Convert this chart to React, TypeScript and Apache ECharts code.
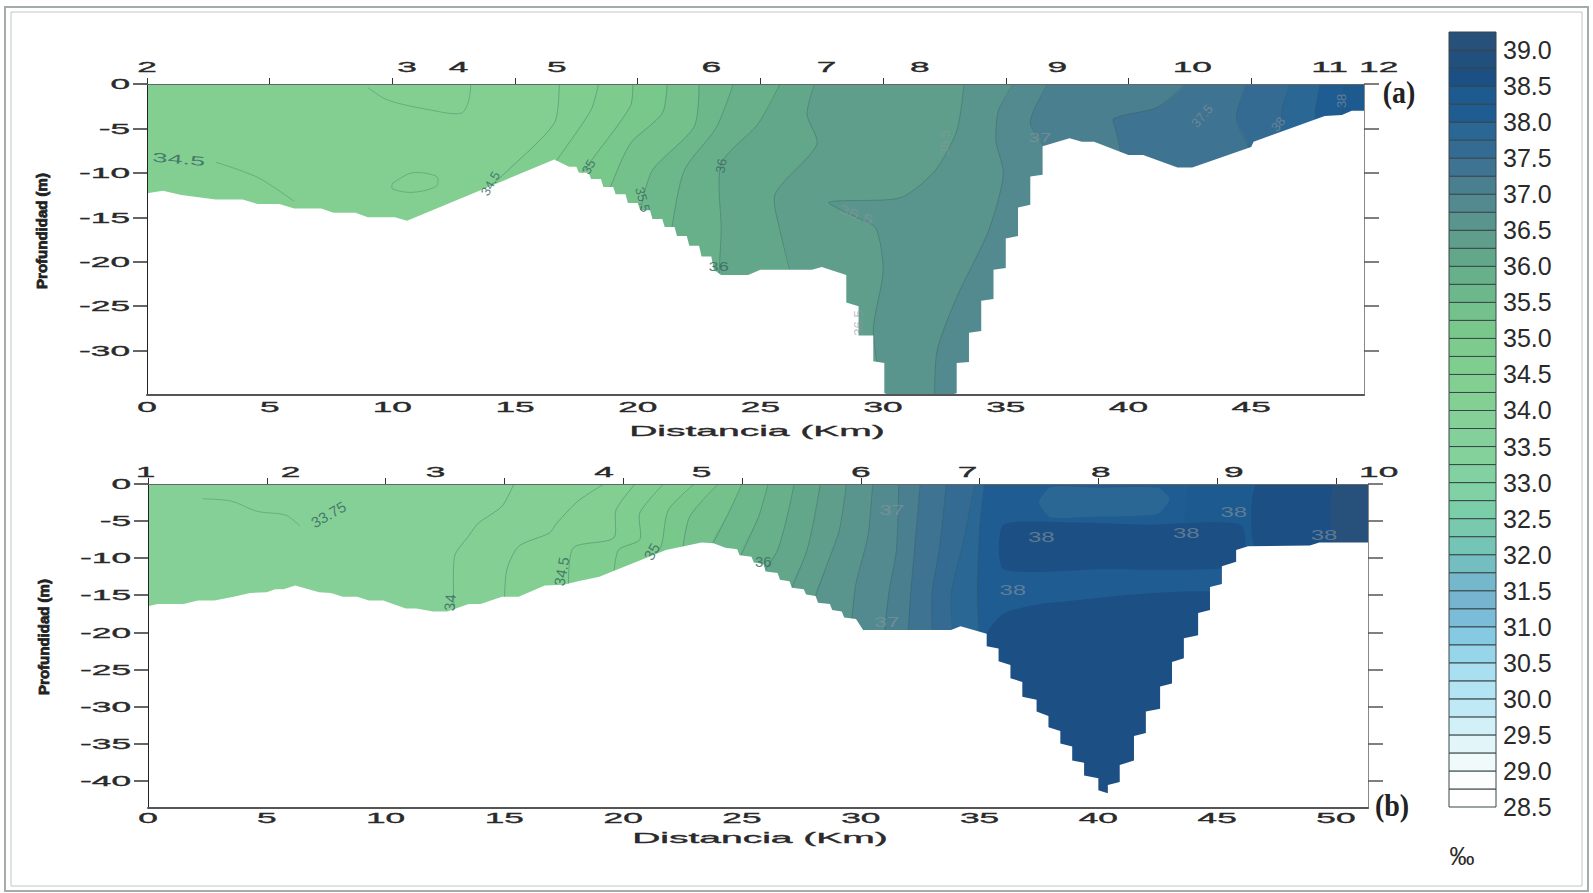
import React, { useEffect, useRef } from "react";
import * as echarts from "echarts";

// ---------- colour bar ----------
const barTicks = [39, 38.5, 38, 37.5, 37, 36.5, 36, 35.5, 35, 34.5, 34, 33.5, 33, 32.5, 32, 31.5, 31, 30.5, 30, 29.5, 29, 28.5];
const bandStarts = [28.5, 28.75, 29, 29.25, 29.5, 29.75, 30, 30.25, 30.5, 30.75, 31, 31.25, 31.5, 31.75, 32, 32.25, 32.5, 32.75, 33, 33.25, 33.5, 33.75, 34, 34.25, 34.5, 34.75, 35, 35.25, 35.5, 35.75, 36, 36.25, 36.5, 36.75, 37, 37.25, 37.5, 37.75, 38, 38.25, 38.5, 38.75, 39];
const bandColors = ["#ffffff", "#fcfdfd", "#f1fafa", "#e2f6f9", "#d2f0f7", "#c0e9f5", "#b3e4f3", "#a9dff0", "#97d6ea", "#85c9e2", "#7bbcd8", "#76b4d0", "#75b8cb", "#74bec1", "#74c5b6", "#78c9ae", "#7bcfa8", "#80d1a4", "#82d1a0", "#84d19b", "#83d09a", "#85d097", "#84d094", "#82cf91", "#80ce8f", "#7dcc8d", "#78c88b", "#75c18c", "#6db88a", "#68b08a", "#63a78a", "#5e9e8b", "#5a958d", "#528a8f", "#4a7f90", "#3f7392", "#346b93", "#2a6795", "#1f5c92", "#1c5a8f", "#1c4f84", "#21507f", "#27507a"];

// ---------- section (a) ----------
const xTicksA = [0, 5, 10, 15, 20, 25, 30, 35, 40, 45];
const yTicksA = [0, -5, -10, -15, -20, -25, -30];
const stationNamesA = ["2", "3", "4", "5", "6", "7", "8", "9", "10", "11", "12"];
const stationKmA = [0, 10.6, 12.7, 16.7, 23, 27.7, 31.5, 37.1, 42.6, 48.2, 50.2];
const seabedA = [[0, 12.3], [0.65, 12], [1.4, 12.5], [2.8, 13], [3.9, 13], [4.5, 13.5], [5.4, 13.5], [6, 14], [7.1, 14], [7.6, 14.5], [8.5, 14.5], [9, 15], [10.1, 15], [10.6, 15.4], [14.6, 10.8], [16.6, 8.5], [17.2, 9.3], [17.5, 9.3], [17.6, 10], [18, 10], [18.1, 10.7], [18.5, 10.7], [18.6, 11.6], [19, 11.6], [19.1, 12.4], [19.5, 12.4], [19.6, 13.4], [20, 13.4], [20.1, 14.2], [20.5, 14.2], [20.6, 15.2], [21, 15.2], [21.1, 16.1], [21.5, 16.1], [21.6, 17.1], [22, 17.1], [22.1, 18.2], [22.5, 18.2], [22.6, 19.4], [23, 19.4], [23.1, 20.9], [23.4, 21.5], [24.5, 21.5], [25, 20.9], [27.1, 20.9], [27.5, 20.6], [28.5, 21.5], [28.5, 24.6], [29, 25], [29, 28.3], [29.6, 28.3], [29.6, 31.2], [30.05, 31.4], [30.05, 34.8], [30.3, 35], [32.7, 35], [33, 34.8], [33, 31.4], [33.5, 31.3], [33.5, 28], [34, 27.8], [34, 24.4], [34.5, 24.2], [34.5, 20.9], [35, 20.7], [35, 17.4], [35.5, 17.1], [35.5, 13.9], [36, 13.6], [36, 10.4], [36.5, 10.2], [36.5, 7], [37.6, 6.1], [38.1, 6.5], [38.6, 6.5], [40, 8], [40.6, 8], [42, 9.4], [42.6, 9.4], [45, 7.1], [45.1, 6.5], [48, 3.6], [48.7, 3.5], [49.1, 3], [49.6, 3]];
const contourLevelsA = [34.25, 34.5, 34.75, 35, 35.25, 35.5, 35.75, 36, 36.25, 36.5, 36.75, 37, 37.25, 37.5, 37.75, 38, 38.25];
const contourLinesA = [
  [[-3, 0], [-3, 36]],
  [[16.8, 0], [16.6, 4.4], [14.6, 10], [13.8, 12]],
  [[18.4, 0], [18.1, 2.9], [16.8, 8.2], [16.6, 9]],
  [[19.8, 0], [19.7, 2.5], [18, 9], [17.6, 10.5]],
  [[21.2, 0], [21, 3.3], [19.7, 6.7], [18.9, 11.5], [18.7, 13]],
  [[22.5, 0], [22.3, 4.8], [20.6, 9.7], [20.1, 14.2], [20, 15.5]],
  [[23.9, 0], [23.2, 4.9], [21.9, 9.7], [21.4, 16], [21.4, 17.5]],
  [[25.8, 0], [24.9, 4.5], [23.4, 9], [23.4, 16.5], [23.3, 22]],
  [[27.2, 0], [26.9, 3.4], [27.3, 6.8], [25.6, 12.4], [25.8, 16.5], [26.3, 22]],
  [[33.3, 0], [33, 5.3], [32.1, 9.8], [30.7, 12.8], [27.8, 13.3], [28.9, 15], [29.7, 16.2], [30, 21], [29.6, 27.8], [30, 35]],
  [[35.3, 0], [34.7, 3], [34.6, 6.4], [34.9, 10.2], [34.3, 16.5], [33, 24], [32.2, 30], [32.1, 35]],
  [[36.7, 0], [36.2, 2.6], [36, 4.5], [36.5, 6.8]],
  [[42.3, 0], [41.2, 2.6], [39.4, 3.9], [39.5, 5.3], [39.7, 8]],
  [[44.8, 0], [44.4, 3.8], [44.9, 7.1]],
  [[46.6, 0], [46.3, 2.3], [46.2, 4.9]],
  [[47.8, 0], [47.6, 3.4]],
  [[48.8, 0], [48.7, 3.4]],
];
const patchLevelsA: number[] = [];
const patchesA: number[][][] = [];
const faintLinesA = [
  [[9, 0.4], [9.8, 1.8], [11.5, 2.9], [12.8, 3.3], [13.1, 2], [13.2, 0]],
  [[2.8, 8.8], [4.5, 10.5], [6, 13.2]],
  [[10, 11.2], [10.8, 10], [11.8, 10.4], [11.8, 11.5], [10.8, 12.2], [10, 11.8], [10, 11.2]],
];
const labelTextsA = ["34.5", "34.5", "35", "35.5", "36", "36", "36.5", "36.5", "36.5", "37", "37.5", "38", "38"];
const labelKmA = [1.3, 14, 18, 20.2, 23.4, 23.3, 32.5, 28.9, 29, 36.4, 43, 46.1, 48.7];
const labelDepthA = [8.5, 11.2, 9.3, 13, 9.2, 20.5, 6.6, 14.7, 26.9, 6, 3.6, 4.5, 1.9];
const labelRotA = [-5, 60, 60, -75, 80, 0, 90, -20, 90, 0, 50, 50, 90];
const labelScaleA = [2.1, 1, 1, 1, 1, 1.4, 1, 1.4, 1, 1.6, 1, 1, 1];

// ---------- section (b) ----------
const xTicksB = [0, 5, 10, 15, 20, 25, 30, 35, 40, 45, 50];
const yTicksB = [0, -5, -10, -15, -20, -25, -30, -35, -40];
const stationNamesB = ["1", "2", "3", "4", "5", "6", "7", "8", "9", "10"];
const stationKmB = [-0.1, 6, 12.1, 19.2, 23.3, 30, 34.5, 40.1, 45.7, 51.8];
const seabedB = [[0, 16.5], [0.4, 16.2], [1.5, 16.2], [2.1, 15.7], [2.8, 15.7], [3.6, 15.2], [4.3, 14.7], [5, 14.6], [5.35, 14.2], [5.7, 14.2], [6.2, 13.7], [7.2, 14.6], [7.7, 14.7], [8.2, 15.2], [8.8, 15.2], [9.3, 15.7], [9.9, 15.7], [10.85, 16.8], [11.3, 16.8], [12, 17.2], [12.6, 17.2], [13.5, 16.2], [14, 16.2], [14.9, 15.2], [15.6, 15.2], [16.7, 13.7], [17.5, 13.6], [18.1, 13.1], [19, 12.5], [19.7, 11.6], [21.8, 8.9], [23.3, 7.9], [23.8, 8], [24.3, 8.6], [24.8, 8.8], [24.9, 9.6], [25.4, 9.8], [25.5, 10.6], [25.9, 10.8], [26, 11.8], [26.5, 12], [26.6, 12.9], [27, 13.1], [27.1, 14], [27.6, 14.2], [27.7, 14.9], [28.1, 15.1], [28.2, 16], [28.7, 16.2], [28.8, 17], [29.2, 17.2], [29.3, 18], [29.8, 18.2], [30.1, 19.7], [33.8, 19.7], [34.2, 19.2], [35.3, 20.2], [35.3, 21.9], [35.8, 22.2], [35.8, 23.9], [36.3, 24.4], [36.3, 26.2], [36.8, 26.7], [36.8, 28.7], [37.4, 29.1], [37.4, 30.7], [37.9, 31.3], [37.9, 32.8], [38.4, 33.3], [38.4, 35], [38.9, 35.4], [38.9, 37.3], [39.4, 37.6], [39.4, 39.3], [40, 39.7], [40, 41.3], [40.4, 41.7], [40.4, 40.6], [40.9, 40.2], [40.9, 37.9], [41.5, 37.3], [41.5, 34], [42, 33.6], [42, 30.7], [42.6, 30.3], [42.6, 27.3], [43.1, 26.9], [43.1, 24], [43.6, 23.5], [43.6, 20.8], [44.2, 20.4], [44.2, 17.4], [44.7, 17], [44.7, 13.9], [45.2, 13.5], [45.2, 11.1], [45.8, 10.5], [45.8, 8.9], [46.3, 8.4], [48.9, 8.3], [49.3, 7.9], [51.35, 7.9]];
const contourLevelsB = [33.75, 34, 34.25, 34.5, 34.75, 35, 35.25, 35.5, 35.75, 36, 36.25, 36.5, 36.75, 37, 37.25, 37.5, 37.75, 38];
const contourLinesB = [
  [[-3, 0], [-3, 45]],
  [[15.4, 0], [14.9, 3], [13.9, 5.3], [13.5, 7], [12.9, 9.8], [12.9, 18]],
  [[19.2, 0], [18.1, 2.3], [17.2, 5.3], [16.9, 6.6], [15.6, 8.4], [15.1, 11.6], [15, 16]],
  [[20.5, 0], [19.7, 3.5], [19.6, 7.3], [17.9, 8.6], [17.7, 14]],
  [[21.7, 0], [20.7, 3.9], [20.7, 7.5], [19.8, 8.9], [19.6, 12.5]],
  [[23, 0], [21.9, 3.5], [21.6, 8.4], [21.2, 10]],
  [[24, 0], [22.8, 4.4], [22.5, 9]],
  [[25, 0], [24.5, 3.5], [23.7, 8.5]],
  [[26.1, 0], [25.7, 4.4], [24.9, 10]],
  [[27.2, 0], [26.9, 4.4], [26.5, 8.9], [25.9, 12]],
  [[28.3, 0], [28, 5.3], [27.7, 9.3], [27.1, 14]],
  [[29.4, 0], [29.1, 6.2], [28.6, 10.7], [28, 16]],
  [[30.5, 0], [30.3, 7], [29.8, 13.4], [29.6, 19]],
  [[31.6, 0], [31.5, 8.9], [31.2, 14.3], [31, 20]],
  [[32.5, 0], [32.3, 7.5], [32.1, 14.7], [32, 20]],
  [[33.6, 0], [33.3, 8.9], [33, 14.7], [33, 20]],
  [[34.8, 0], [34.3, 8], [33.8, 15], [33.9, 21]],
  [[35.2, 0], [35, 6], [34.9, 15], [35, 22]],
];
const patchLevelsB = [38.25, 38.5, 37.75, 38.5, 38.5, 39];
const patchesB = [
  [[44, -1], [44, 9], [53, 9], [53, -1]],
  [[36, 5.5], [39, 5.2], [42, 5.5], [46, 5.5], [46, 11], [40, 11.5], [36, 11.5]],
  [[38, 0.4], [40, 0.5], [42.5, 0.5], [43, 2], [42.5, 4], [40, 4.4], [38, 4.5], [37.5, 2.5]],
  [[36, 17.5], [38, 16], [46, 15.5], [46, 40], [40, 44], [35, 44], [35, 22]],
  [[46.8, -1], [46.7, 9], [53, 9], [53, -1]],
  [[50, -1], [50, 9], [53, 9], [53, -1]],
];
const faintLinesB = [
  [[2.3, 2], [3.5, 2.3], [4.6, 3.7], [5.8, 4.2], [6.4, 5.7]],
];
const labelTextsB = ["33.75", "34", "34.5", "35", "36", "37", "37", "38", "38", "38", "38", "38"];
const labelKmB = [7.6, 12.7, 17.4, 21.2, 25.9, 31.3, 31.1, 37.6, 43.7, 36.4, 45.7, 49.5];
const labelDepthB = [4.1, 16, 11.8, 9.1, 10.5, 3.5, 18.6, 7.1, 6.6, 14.3, 3.8, 6.8];
const labelRotB = [30, 85, 80, 60, 0, 0, 0, 0, 0, 0, 0, 0];
const labelScaleB = [1, 1, 1, 1, 1, 1.5, 1.5, 1.6, 1.6, 1.6, 1.6, 1.6];

// ---------- render helpers ----------
const TICK_FONT = '15px "Liberation Sans"';
const colorOf = (level: number) => {
  const i = bandStarts.indexOf(level);
  return bandColors[i < 0 ? 0 : i];
};

function fillSeries(xi: number, yi: number, xMax: number, yMin: number, lines: number[][][], levels: number[], patches: number[][][], patchLevels: number[], faint: number[][][], seabed: number[][]) {
  const C = (api: any, p: number[]) => api.coord([p[0], -p[1]]);
  const base = { type: "custom", coordinateSystem: "cartesian2d", xAxisIndex: xi, yAxisIndex: yi, silent: true, clip: true, z: 1 };
  const bandSeries = {
    ...base,
    data: lines.map((_, i) => [i, 0]),
    renderItem: (_: any, api: any) => {
      const i = api.value(0);
      const line = lines[i];
      const first = line[0];
      const last = line[line.length - 1];
      const pts = [[first[0], -3], ...line, [last[0], -yMin + 3], [xMax + 6, -yMin + 3], [xMax + 6, -3]].map((p) => C(api, p));
      const children: any[] = [{ type: "polygon", shape: { points: pts, smooth: 0.25 }, style: { fill: colorOf(levels[i]), stroke: null } }];
      if (i > 0) {
        children.push({ type: "polyline", shape: { points: line.map((p) => C(api, p)), smooth: 0.25 }, style: { fill: null, stroke: "rgba(50,90,85,0.35)", lineWidth: 1 } });
      }
      return { type: "group", children };
    },
  };
  const patchSeries = {
    ...base,
    z: 2,
    data: patches.map((_, i) => [i, 0]),
    renderItem: (_: any, api: any) => {
      const i = api.value(0);
      return { type: "polygon", shape: { points: patches[i].map((p) => C(api, p)), smooth: 0.2 }, style: { fill: colorOf(patchLevels[i]) } };
    },
  };
  const faintSeries = {
    ...base,
    z: 3,
    data: faint.map((_, i) => [i, 0]),
    renderItem: (_: any, api: any) => ({
      type: "polyline",
      shape: { points: faint[api.value(0)].map((p) => C(api, p)), smooth: 0.3 },
      style: { fill: null, stroke: "rgba(60,110,90,0.35)", lineWidth: 1 },
    }),
  };
  const maskSeries = {
    ...base,
    z: 4,
    data: [[0, 0]],
    renderItem: (_: any, api: any) => ({
      type: "polygon",
      shape: { points: [...seabed, [xMax + 1, seabed[seabed.length - 1][1]], [xMax + 1, -yMin + 2], [-1, -yMin + 2], [-1, seabed[0][1]]].map((p) => C(api, p)) },
      style: { fill: "#ffffff" },
    }),
  };
  return [bandSeries, patchSeries, faintSeries, maskSeries];
}

function textSeries(xi: number, yi: number, yMin: number, xT: number[], yT: number[], names: string[], kms: number[], lt: string[], lk: number[], ld: number[], lr: number[], ls: number[], dyBottom: number, dyTop: number, labelSize: number) {
  type Item = { t: string; x: number; y: number; dx: number; dy: number; align: string; sx: number; font: string; fill: string; rot: number; heavy: boolean };
  const items: Item[] = [];
  const dark = "#2a2a2a";
  xT.forEach((v) => items.push({ t: String(v), x: v, y: yMin, dx: 0, dy: dyBottom, align: "center", sx: 2.35, font: TICK_FONT, fill: dark, rot: 0, heavy: true }));
  yT.forEach((v) => items.push({ t: String(v), x: 0, y: v, dx: -17, dy: 0, align: "right", sx: 2.35, font: TICK_FONT, fill: dark, rot: 0, heavy: true }));
  names.forEach((n, i) => items.push({ t: n, x: kms[i], y: 0, dx: 0, dy: dyTop, align: "center", sx: 2.35, font: TICK_FONT, fill: dark, rot: 0, heavy: true }));
  lt.forEach((n, i) => {
    const light = lk[i] > 28;
    items.push({ t: n, x: lk[i], y: -ld[i], dx: 0, dy: 0, align: "center", sx: ls[i], font: `${labelSize}px "Liberation Sans"`, fill: light ? "rgba(140,150,155,0.6)" : "rgba(60,105,100,0.85)", rot: (lr[i] * Math.PI) / 180, heavy: false });
  });
  return {
    type: "custom",
    coordinateSystem: "cartesian2d",
    xAxisIndex: xi,
    yAxisIndex: yi,
    clip: false,
    silent: true,
    z: 8,
    data: items.map((_, i) => [i, 0]),
    renderItem: (_: any, api: any) => {
      const it = items[api.value(0)];
      const p = api.coord([it.x, it.y]);
      return {
        type: "text",
        x: p[0] + it.dx,
        y: p[1] + it.dy,
        scaleX: it.sx,
        rotation: it.rot,
        style: { text: it.t, font: it.font, fill: it.fill, align: it.align, verticalAlign: "middle", stroke: it.heavy ? it.fill : undefined, lineWidth: it.heavy ? 0.35 : 0 },
      };
    },
  };
}

function axes(xMax: number, yMin: number, xT: number[], yT: number[], gridIndex: number) {
  const none = { show: false };
  const xBase = { type: "value", gridIndex, min: 0, max: xMax, splitLine: none, axisLabel: none, z: 6 };
  const yBase = { type: "value", gridIndex, min: yMin, max: 0, splitLine: none, axisLabel: none, z: 6 };
  return {
    x: [
      { ...xBase, position: "bottom", axisLine: { show: true, onZero: false, lineStyle: { color: "#555", width: 2 } }, axisTick: { show: false } },
      { ...xBase, position: "top", axisLine: { show: true, onZero: false, lineStyle: { color: "#666", width: 1 } }, axisTick: { show: true, length: 6, customValues: xT, lineStyle: { color: "#333" } } },
    ],
    y: [
      { ...yBase, position: "left", axisLine: { show: true, onZero: false, lineStyle: { color: "#222", width: 1 } }, axisTick: { show: true, length: 14, customValues: yT, lineStyle: { color: "#333", width: 1.5 } } },
      { ...yBase, position: "right", axisLine: { show: true, onZero: false, lineStyle: { color: "#888", width: 1 } }, axisTick: { show: true, length: 15, customValues: yT, lineStyle: { color: "#555", width: 1.5 } } },
    ],
  };
}

export default function App() {
  const ref = useRef<HTMLDivElement>(null);
  useEffect(() => {
    document.body.style.margin = "0";
    const chart = echarts.init(ref.current!, null, { renderer: "svg" });
    const A_MAX = 49.6, A_MIN = -35, B_MAX = 51.35, B_MIN = -43.7;
    const a = axes(A_MAX, A_MIN, xTicksA, yTicksA, 0);
    const b = axes(B_MAX, B_MIN, xTicksB, yTicksB, 1);
    const hugeText = (text: string, x: number, y: number, sx: number) => ({
      type: "text",
      x,
      y,
      scaleX: sx,
      style: { text, font: '15px "Liberation Sans"', fill: "#2a2a2a", stroke: "#2a2a2a", lineWidth: 0.35, align: "center", verticalAlign: "middle" },
    });
    const yTitle = (x: number, y: number) => ({
      type: "text",
      x,
      y,
      rotation: Math.PI / 2,
      style: { text: "Profundidad (m)", font: 'bold 15px "Liberation Sans"', fill: "#222", stroke: "#222", lineWidth: 0.8, align: "center", verticalAlign: "middle" },
    });
    chart.setOption({
      animation: false,
      backgroundColor: "#ffffff",
      grid: [
        { left: 147, top: 84, width: 1217, height: 311 },
        { left: 148, top: 484, width: 1220, height: 324 },
        { left: 1449, top: 32, width: 47, height: 775 },
      ],
      xAxis: [...a.x, ...b.x, { type: "value", gridIndex: 2, min: 0, max: 1, show: false }],
      yAxis: [
        ...a.y,
        ...b.y,
        {
          type: "value",
          gridIndex: 2,
          position: "right",
          min: 28.5,
          max: 39.25,
          splitLine: { show: false },
          axisLine: { show: false },
          axisTick: { show: false },
          axisLabel: {
            show: true,
            margin: 7,
            customValues: barTicks,
            formatter: (v: number) => v.toFixed(1),
            color: "#2a2a2a",
            fontFamily: "Liberation Sans",
            fontSize: 25,
          },
        },
      ],
      graphic: [
        { type: "rect", shape: { x: 5, y: 7, width: 1583, height: 884 }, style: { fill: "none", stroke: "#a3abab", lineWidth: 2 } },
        { type: "rect", shape: { x: 11, y: 12, width: 1571, height: 874 }, style: { fill: "none", stroke: "#c0c6c6", lineWidth: 1 } },
        hugeText("Distancia (Km)", 757, 431, 2.6),
        hugeText("Distancia (Km)", 760, 838, 2.6),
        yTitle(41, 231),
        yTitle(43, 637),
        { type: "text", x: 1399, y: 93, scaleY: 1.1, style: { text: "(a)", font: 'bold 28px "Liberation Serif"', fill: "#222", align: "center", verticalAlign: "middle" } },
        { type: "text", x: 1392, y: 806, scaleY: 1.1, style: { text: "(b)", font: 'bold 28px "Liberation Serif"', fill: "#222", align: "center", verticalAlign: "middle" } },
        { type: "text", x: 1462, y: 856, style: { text: "‰", font: '25px "Liberation Sans"', fill: "#2a2a2a", align: "center", verticalAlign: "middle" } },
      ],
      series: [
        ...fillSeries(0, 0, A_MAX, A_MIN, contourLinesA, contourLevelsA, patchesA, patchLevelsA, faintLinesA, seabedA),
        ...fillSeries(2, 2, B_MAX, B_MIN, contourLinesB, contourLevelsB, patchesB, patchLevelsB, faintLinesB, seabedB),
        textSeries(0, 0, A_MIN, xTicksA, yTicksA, stationNamesA, stationKmA, labelTextsA, labelKmA, labelDepthA, labelRotA, labelScaleA, 12, -17, 13),
        textSeries(2, 2, B_MIN, xTicksB, yTicksB, stationNamesB, stationKmB, labelTextsB, labelKmB, labelDepthB, labelRotB, labelScaleB, 10, -12, 15),
        {
          type: "custom",
          coordinateSystem: "cartesian2d",
          xAxisIndex: 4,
          yAxisIndex: 4,
          silent: true,
          data: bandStarts.map((s, i) => [0, s, i]),
          renderItem: (_: any, api: any) => {
            const s = api.value(1);
            const p0 = api.coord([0, s + 0.25]);
            const p1 = api.coord([1, s]);
            return {
              type: "rect",
              shape: { x: p0[0], y: p0[1], width: p1[0] - p0[0], height: p1[1] - p0[1] },
              style: { fill: bandColors[api.value(2)], stroke: "#39474a", lineWidth: 1 },
            };
          },
        },
      ],
    });
    return () => chart.dispose();
  }, []);
  return <div ref={ref} style={{ width: 1593, height: 893, position: "absolute", left: 0, top: 0 }} />;
}
